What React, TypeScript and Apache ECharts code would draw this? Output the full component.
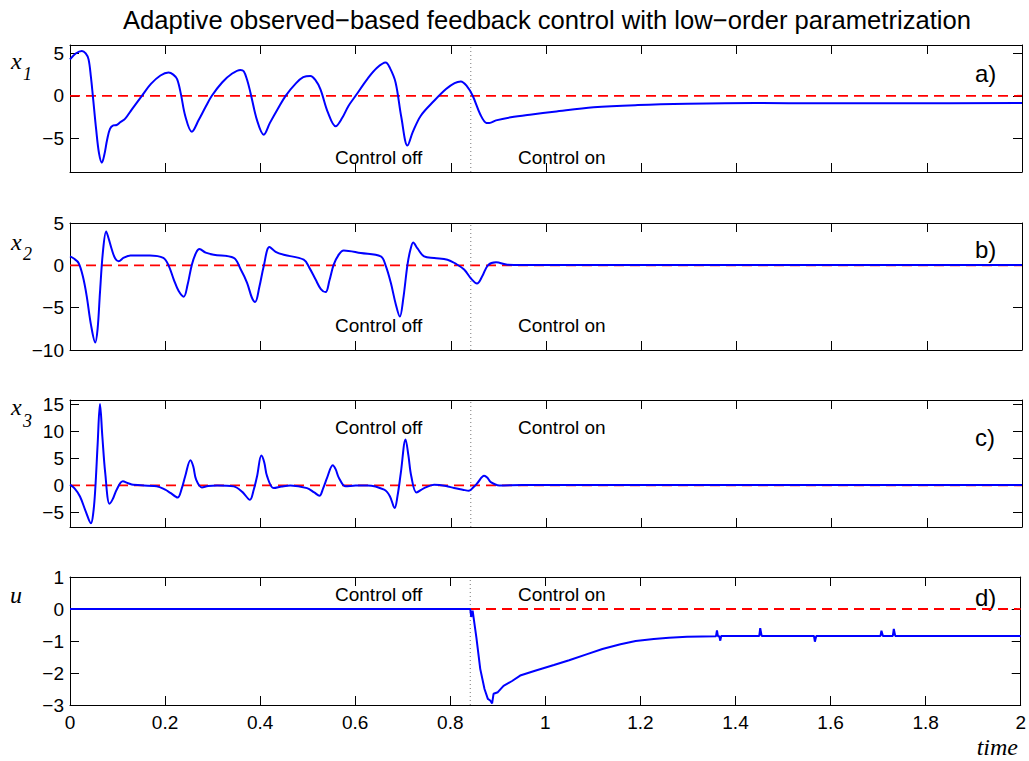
import React, { useEffect, useRef } from "react";
import * as echarts from "echarts";

// ---- data ----
const tX1 = [0, 0.012, 0.025, 0.033, 0.039, 0.044, 0.048, 0.055, 0.061, 0.067, 0.072, 0.078, 0.084, 0.091, 0.098, 0.106, 0.116, 0.13, 0.151, 0.17, 0.19, 0.207, 0.217, 0.225, 0.233, 0.242, 0.256, 0.27, 0.285, 0.298, 0.32, 0.34, 0.358, 0.365, 0.372, 0.379, 0.393, 0.407, 0.42, 0.437, 0.453, 0.475, 0.49, 0.505, 0.515, 0.526, 0.542, 0.558, 0.572, 0.585, 0.6, 0.625, 0.645, 0.663, 0.672, 0.684, 0.696, 0.709, 0.72, 0.737, 0.765, 0.79, 0.808, 0.821, 0.833, 0.846, 0.862, 0.875, 0.881, 0.895, 0.926, 0.97, 1.017, 1.1, 1.193, 1.297, 1.44, 1.58, 1.75, 2.0];
const vX1 = [4.3, 5.0, 5.3, 5.0, 4.3, 2.2, 0, -4.0, -6.8, -7.9, -7.0, -5.2, -3.9, -3.5, -3.45, -3.1, -2.7, -1.6, 0, 1.4, 2.4, 2.75, 2.5, 1.96, 0.2, -2.35, -4.24, -2.9, -1.3, 0, 1.6, 2.6, 3.06, 2.9, 1.9, 0.4, -2.9, -4.59, -3.2, -1.5, 0, 1.5, 2.2, 2.35, 1.9, 0.79, -2.0, -3.6, -2.6, -1.2, 0, 2.0, 3.3, 3.93, 3.3, 1.58, -2.5, -5.88, -4.3, -2.35, -0.59, 0.8, 1.5, 1.69, 1.2, 0, -2.2, -3.2, -3.21, -2.9, -2.54, -2.2, -1.88, -1.36, -1.09, -0.94, -0.86, -0.89, -0.88, -0.86];

const tX2 = [0, 0.008, 0.018, 0.027, 0.035, 0.044, 0.053, 0.058, 0.063, 0.069, 0.076, 0.081, 0.088, 0.095, 0.102, 0.113, 0.127, 0.168, 0.196, 0.207, 0.218, 0.228, 0.239, 0.247, 0.256, 0.265, 0.272, 0.285, 0.302, 0.344, 0.358, 0.372, 0.382, 0.389, 0.398, 0.407, 0.419, 0.432, 0.449, 0.491, 0.503, 0.516, 0.527, 0.537, 0.545, 0.554, 0.565, 0.575, 0.611, 0.653, 0.663, 0.674, 0.684, 0.693, 0.7, 0.709, 0.715, 0.721, 0.73, 0.744, 0.765, 0.793, 0.81, 0.828, 0.843, 0.855, 0.866, 0.878, 0.895, 0.919, 0.95, 2.0];
const vX2 = [1.05, 0.8, 0.28, -1.3, -3.6, -7.0, -9.1, -7.5, -3.2, 1.5, 4.0, 3.2, 1.84, 0.8, 0.47, 0.9, 1.17, 1.17, 0.87, 0.0, -1.68, -3.0, -3.7, -2.3, 0.08, 1.5, 1.92, 1.5, 1.25, 0.87, -0.4, -2.06, -3.8, -4.33, -2.5, -0.1, 2.16, 1.6, 1.25, 0.67, -0.3, -1.68, -2.8, -3.16, -1.8, 0.08, 1.3, 1.76, 1.45, 1.05, 0.0, -2.06, -4.5, -6.05, -4.0, 0.08, 1.8, 2.7, 2.0, 1.05, 0.86, 0.67, 0.2, -0.5, -1.6, -2.15, -1.3, 0.0, 0.35, 0.08, 0.05, 0.05];

const tX3 = [0, 0.01, 0.021, 0.033, 0.044, 0.049, 0.053, 0.058, 0.063, 0.068, 0.074, 0.083, 0.09, 0.098, 0.111, 0.122, 0.133, 0.182, 0.2, 0.211, 0.226, 0.235, 0.242, 0.253, 0.259, 0.265, 0.277, 0.29, 0.309, 0.344, 0.362, 0.378, 0.386, 0.393, 0.402, 0.408, 0.414, 0.428, 0.445, 0.463, 0.498, 0.513, 0.524, 0.532, 0.54, 0.552, 0.558, 0.565, 0.579, 0.6, 0.625, 0.66, 0.672, 0.682, 0.688, 0.695, 0.705, 0.711, 0.717, 0.728, 0.744, 0.765, 0.79, 0.807, 0.825, 0.838, 0.848, 0.856, 0.87, 0.877, 0.884, 0.902, 0.95, 2.0];
const vX3 = [0.13, -0.6, -2.05, -4.8, -7.0, -5.0, -0.8, 7.5, 15.05, 9.0, 2.3, -3.4, -2.5, -0.8, 0.75, 0.4, 0.1, -0.18, -0.8, -1.4, -2.24, -0.5, 1.7, 4.66, 3.5, 1.06, -0.37, -0.1, 0, -0.18, -1.2, -2.67, -0.8, 1.7, 5.54, 4.3, 1.7, -0.5, -0.2, 0, -0.5, -1.3, -1.92, -0.5, 1.38, 3.73, 3.0, 1.38, -0.18, 0, 0, -0.8, -2.0, -4.2, -2.0, 2.3, 8.5, 5.5, 1.7, -1.3, -0.5, 0.13, -0.1, -0.5, -0.8, -1.0, -0.3, 0.44, 1.8, 1.4, 0.6, 0, 0.08, 0.08];

const tU = [0, 0.842, 0.844, 0.847, 0.855, 0.863, 0.872, 0.879, 0.884, 0.888, 0.891, 0.9, 0.912, 0.93, 0.947, 0.98, 1.018, 1.05, 1.088, 1.12, 1.158, 1.19, 1.228, 1.26, 1.298, 1.33, 1.359, 1.361, 1.363, 1.366, 1.368, 1.37, 1.45, 1.452, 1.455, 1.565, 1.567, 1.57, 1.705, 1.707, 1.71, 1.731, 1.733, 1.736, 2.0];
const vU = [0, 0, -0.25, -0.05, -0.9, -1.87, -2.5, -2.81, -2.86, -2.95, -2.65, -2.6, -2.4, -2.25, -2.08, -1.92, -1.75, -1.6, -1.41, -1.25, -1.1, -1.0, -0.94, -0.9, -0.87, -0.86, -0.85, -0.67, -0.85, -0.85, -0.99, -0.84, -0.84, -0.6, -0.84, -0.84, -1.02, -0.84, -0.84, -0.68, -0.84, -0.84, -0.62, -0.84, -0.84];

const switchTime = 0.842;
const yMins = [-9, -10, -7.7, -3];
const yMaxs = [6, 5, 15.8, 1];
const yTickVals = [[-5, 0, 5], [-10, -5, 0, 5], [-5, 0, 5, 10, 15], [-3, -2, -1, 0, 1]];
const panelLetters = ["a)", "b)", "c)", "d)"];
const titleText = "Adaptive observed\u2212based feedback control with low\u2212order parametrization";

// ---- layout ----
const gridTops = [45, 223, 400, 577];
const gridHeights = [127, 127, 127, 128];
const LEFT = 70;
const WIDTH = 952;

const SANS = "Liberation Sans, Arial, Helvetica, sans-serif";
const SERIF = "Liberation Serif, Times New Roman, serif";

function pairs(t: number[], v: number[]) {
  return t.map((x, i) => [x, v[i]]);
}

export default function App() {
  const ref = useRef<HTMLDivElement>(null);
  useEffect(() => {
    if (!ref.current) return;
    const chart = echarts.init(ref.current, undefined, { renderer: "svg" });
    const grids: any[] = [];
    const xAxes: any[] = [];
    const yAxes: any[] = [];
    const series: any[] = [];
    const curves = [pairs(tX1, vX1), pairs(tX2, vX2), pairs(tX3, vX3), pairs(tU, vU)];
    const minus = (v: any) => String(v).replace("-", "\u2212");
    for (let i = 0; i < 4; i++) {
      grids.push({ left: LEFT, width: WIDTH, top: gridTops[i], height: gridHeights[i], show: false });
      const baseX = {
        gridIndex: i, type: "value", min: 0, max: 2, interval: 0.2,
        axisLine: { show: true, onZero: false, lineStyle: { color: "#000", width: 1 } },
        axisTick: { show: true, inside: true, length: 9, lineStyle: { color: "#000" } },
        splitLine: { show: false },
      };
      xAxes.push({ ...baseX, position: "bottom",
        axisLabel: { show: i === 3, color: "#000", fontSize: 19, fontFamily: SANS, margin: 8 } });
      xAxes.push({ ...baseX, position: "top", axisLabel: { show: false } });
      const baseY = {
        gridIndex: i, type: "value", min: yMins[i], max: yMaxs[i],
        axisLine: { show: true, onZero: false, lineStyle: { color: "#000", width: 1 } },
        axisTick: { show: true, inside: true, length: 9, customValues: yTickVals[i], lineStyle: { color: "#000" } },
        splitLine: { show: false },
      };
      yAxes.push({ ...baseY, position: "left",
        axisLabel: { show: true, customValues: yTickVals[i], formatter: minus, color: "#000", fontSize: 19, fontFamily: SANS, margin: 6 } });
      yAxes.push({ ...baseY, position: "right", axisLabel: { show: false } });

      series.push({
        type: "line", xAxisIndex: 2 * i, yAxisIndex: 2 * i, symbol: "none", silent: true,
        data: [[0, 0], [2, 0]],
        lineStyle: { color: "#ff0000", width: 1.8, type: [10, 6] },
      });
      series.push({
        type: "line", xAxisIndex: 2 * i, yAxisIndex: 2 * i, symbol: "none", silent: true,
        data: [[switchTime, yMins[i]], [switchTime, yMaxs[i]]],
        lineStyle: { color: "#777", width: 1, type: [1, 3] },
      });
      series.push({
        type: "line", xAxisIndex: 2 * i, yAxisIndex: 2 * i, symbol: "none", silent: true,
        data: curves[i],
        smooth: i === 3 ? false : 0.35,
        lineStyle: { color: "#0000ff", width: 2 },
      });
    }

    const controlY = [157, 325.5, 427.5, 594.5];
    const letterY = [73, 249.5, 437, 597.5];
    const graphics: any[] = [];
    graphics.push({ type: "text", x: 547, y: 19.5, style: { text: titleText, fill: "#000", font: `25.6px ${SANS}`, textAlign: "center", textVerticalAlign: "middle" } });
    for (let i = 0; i < 4; i++) {
      graphics.push({ type: "text", x: 335, y: controlY[i], style: { text: "Control off", fill: "#000", font: `19px ${SANS}`, textAlign: "left", textVerticalAlign: "middle" } });
      graphics.push({ type: "text", x: 518, y: controlY[i], style: { text: "Control on", fill: "#000", font: `19px ${SANS}`, textAlign: "left", textVerticalAlign: "middle" } });
      graphics.push({ type: "text", x: 975, y: letterY[i], style: { text: panelLetters[i], fill: "#000", font: `24px ${SANS}`, textAlign: "left", textVerticalAlign: "middle" } });
    }
    // axis names
    const xName = [[60.6, 74], [241.6, 254], [406.6, 421]];
    for (let i = 0; i < 3; i++) {
      graphics.push({ type: "text", x: 11, y: xName[i][0], style: { text: "x", fill: "#000", font: `italic 24px ${SERIF}`, textAlign: "left", textVerticalAlign: "middle" } });
      graphics.push({ type: "text", x: 23, y: xName[i][1], style: { text: String(i + 1), fill: "#000", font: `italic 18px ${SERIF}`, textAlign: "left", textVerticalAlign: "middle" } });
    }
    graphics.push({ type: "text", x: 10, y: 594.6, style: { text: "u", fill: "#000", font: `italic 24px ${SERIF}`, textAlign: "left", textVerticalAlign: "middle" } });
    graphics.push({ type: "text", x: 1018, y: 746.6, style: { text: "time", fill: "#000", font: `italic 24px ${SERIF}`, textAlign: "right", textVerticalAlign: "middle" } });

    chart.setOption({
      animation: false,
      backgroundColor: "#fff",
      grid: grids,
      xAxis: xAxes,
      yAxis: yAxes,
      series,
      graphic: graphics,
    });
    return () => chart.dispose();
  }, []);
  return <div ref={ref} style={{ position: "fixed", left: 0, top: 0, width: 1029, height: 761 }} />;
}
